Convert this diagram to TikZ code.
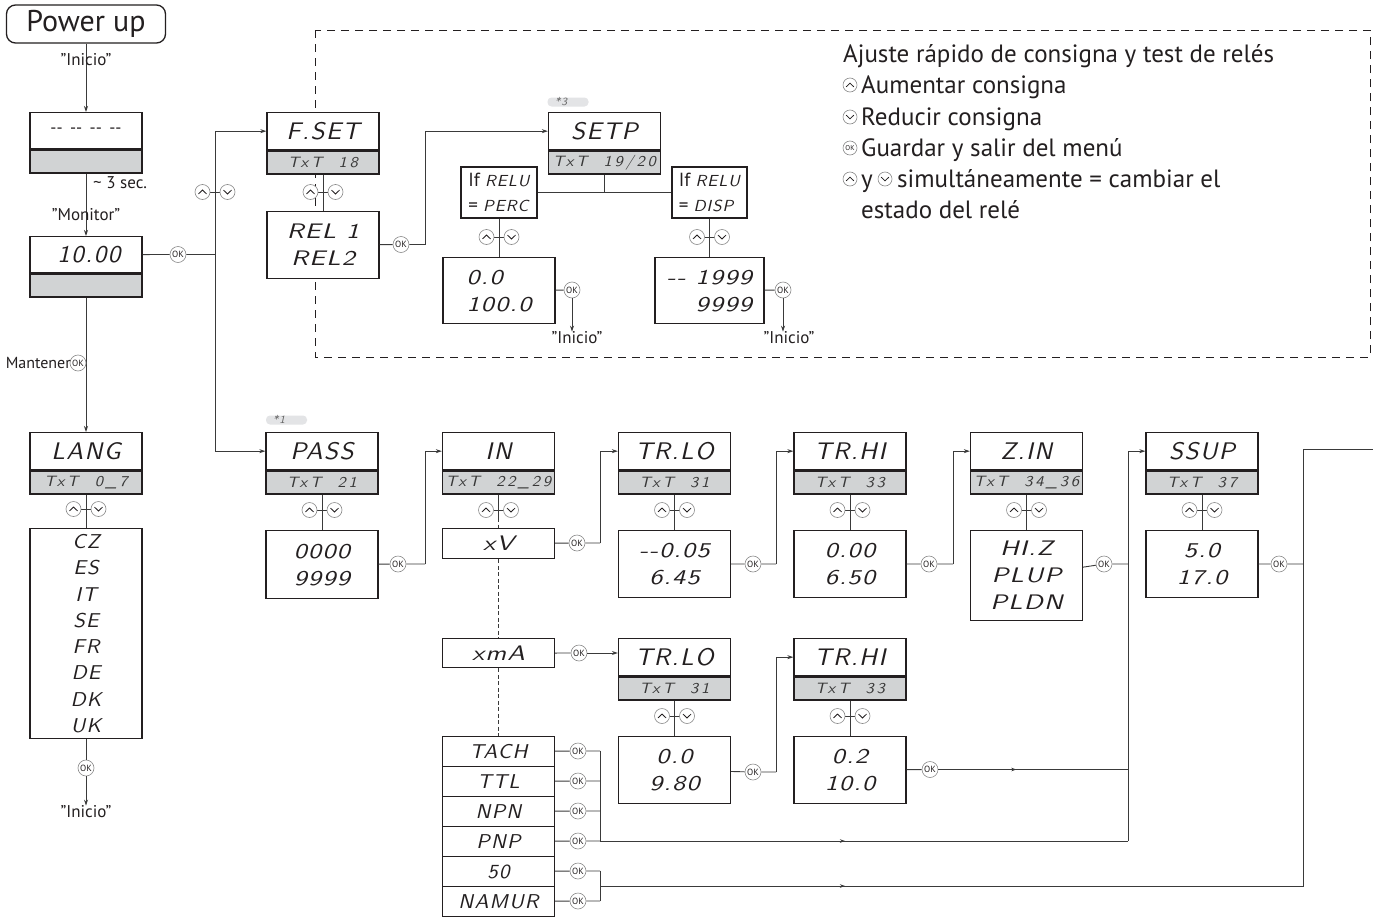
\documentclass[tikz,border=0pt]{standalone}
\usepackage{fontspec}
\setmainfont{PT Sans}
\newfontfamily\segT{lmsans10-oblique.otf}[FakeStretch=1.05,LetterSpace=6]
\newfontfamily\segV{lmsans10-oblique.otf}[FakeStretch=1.25,LetterSpace=6]
\newfontfamily\segB{lmsans10-oblique.otf}[FakeStretch=1.1,LetterSpace=18]
\usetikzlibrary{arrows.meta,decorations.markings,calc}
\definecolor{ink}{HTML}{231F20}
\definecolor{lnc}{HTML}{3A3A3A}
\definecolor{bandc}{HTML}{D1D3D4}
\definecolor{okc}{HTML}{8A8A8A}
\definecolor{pillc}{HTML}{E3E4E6}
\tikzset{
 lbl/.style={font=\fontsize{17}{19}\selectfont, text=ink, inner sep=0pt},
 leg/.style={font=\fontsize{25}{25}\selectfont, text=ink, inner sep=0pt, anchor=base west},
 boxs/.style={draw=ink, line width=1.3pt, fill=white, inner sep=0pt, text=ink},
 seg/.style={font=\fontsize{24}{26}\segT},
 segsm/.style={font=\fontsize{21}{27}\segV},
 seglist/.style={font=\fontsize{20}{26.3}\segT},
 bandtxt/.style={font=\fontsize{15}{16}\segB, text=black!78},
 ln/.style={draw=lnc, line width=0.9pt},
 arr/.style={ln, -{Stealth[length=6pt,width=4pt]}},
 dsh/.style={ln, dash pattern=on 4pt off 2.5pt},
 okn/.style={circle, draw=okc, line width=0.6pt, fill=white, minimum size=16pt, inner sep=0pt, font=\fontsize{9}{9}\selectfont, text=ink},
 udc/.style={circle, draw=okc, line width=0.6pt, fill=white, minimum size=15pt, inner sep=0pt},
 chev/.style={draw=ink, line width=0.8pt},
 midarr/.style={postaction={decorate}, decoration={markings, mark=at position #1 with {\arrow{Stealth[length=5pt,width=3.5pt]}}}},
 pill/.style={fill=pillc, rounded corners=4pt, inner sep=0pt, minimum width=41pt, minimum height=9pt},
 pilltxt/.style={font=\fontsize{11}{11}\segT, text=black!60, inner sep=0pt}
}
\newcommand\mmenu[6][37]{%
 \node[boxs, seg, minimum width=112pt, minimum height=#1pt, anchor=north] (#2) at (#3,#4) {#5};
 \node[boxs, fill=bandc, bandtxt, minimum width=112pt, minimum height=23pt, anchor=north] (#2b) at (#2.south) {#6};
}
\newcommand\valbx[6][center]{%
 \node[boxs, segsm, minimum width=112pt, minimum height=#5pt, anchor=north, align=#1] (#2) at (#3,#4) {#6};
}
\newcommand\icup[4]{%
 \node[udc, minimum size=#4pt] (#1) at (#2,#3) {};
 \draw[chev] ($(#1)+(-0.27*#4,0.13*#4)$) -- ($(#1)+(0,-0.13*#4)$) -- ($(#1)+(0.27*#4,0.13*#4)$);
}
\newcommand\icdn[4]{%
 \node[udc, minimum size=#4pt] (#1) at (#2,#3) {};
 \draw[chev] ($(#1)+(-0.27*#4,-0.13*#4)$) -- ($(#1)+(0,0.13*#4)$) -- ($(#1)+(0.27*#4,-0.13*#4)$);
}
\newcommand\updown[3]{%
 \draw[ln] (#2-5,#3) -- (#2+5,#3);
 \icup{#1u}{#2-12.5}{#3}{15}
 \icdn{#1d}{#2+12.5}{#3}{15}
}
\begin{document}
\begin{tikzpicture}[x=1pt,y=-1pt]
\useasboundingbox (0,0) rectangle (1373,918);
\fill[white] (0,0) rectangle (1373,918);

% dashed frame
\draw[draw=ink, line width=1pt, dash pattern=on 8pt off 6pt] (315,30) rectangle (1370,357);

% ---------- left column ----------
\node[draw=ink, line width=1.3pt, rounded corners=9pt, minimum width=159pt, minimum height=38pt, font=\fontsize{30}{32}\selectfont, text=ink, inner sep=0pt] (pu) at (86,24) {Power up};
\mmenu[36]{bA}{86}{112}{{\rmfamily\fontsize{17}{17}\selectfont -{}- \,-{}- \,-{}- \,-{}-}}{}
\draw[arr] (pu) -- (bA);
\node[lbl] (lini0) at (86,60) {"Inicio"};
\mmenu[36]{bB}{86}{236}{\hspace*{6pt}10.00}{}
\draw[arr] (bAb) -- (bB);
\node[lbl, anchor=west] (lsec) at (93,183) {\textasciitilde{} 3 sec.};
\node[lbl] (lmon) at (86,215) {"Monitor"};

\node[okn] (okB) at (178,254.5) {OK};
\coordinate (trunk) at (215,254.5);
\draw[ln] (bB) -- (okB) -- (trunk);

\mmenu{lang}{86}{432}{LANG}{TxT\ \ 0\_7}
\draw[arr] (bBb) -- (lang);
\node[okn] (okM) at (78,363) {OK};
\node[lbl, anchor=east, font=\fontsize{16}{18}\selectfont] (lman) at (71,363) {Mantener};
\node[boxs, seglist, align=center, minimum width=112pt, minimum height=210pt, anchor=north] (langl) at (86,528) {CZ\\ES\\IT\\SE\\FR\\DE\\DK\\UK};
\draw[ln] (langb) -- (langl);
\updown{lg}{86}{509}
\node[okn] (okL) at (86,768) {OK};
\node[lbl] (lini1) at (86,812) {"Inicio"};
\draw[ln] (langl) -- (okL);
\draw[arr] (okL) -- (lini1);

% ---------- F.SET / SETP ----------
\mmenu{fset}{323}{112}{F.SET}{TxT\ \ 18}
\valbx{rel}{323}{211}{67}{REL 1\\REL2}
\draw[ln] (fsetb) -- (rel);
\updown{fs}{323}{192}
\node[okn] (okR) at (401,244.5) {OK};
\coordinate (cR) at (425,244.5);
\draw[ln] (rel) -- (okR) -- (cR);

\mmenu{setp}{604.5}{112}{SETP}{TxT\ \ 19/20}
\draw[arr] (cR) |- (setp);
\node[pill] (p3) at (568,102) {};
\node[pilltxt] (p3t) at (561,101) {*3};
\coordinate (jS) at (604.5,192.5);
\draw[ln] (setpb) -- (jS);
\node[boxs, align=left, font=\fontsize{19}{25}\selectfont, minimum width=76pt, minimum height=51pt] (perc) at (499,192.5) {If {\fontsize{16}{16}\segT RELU}\\= {\fontsize{16}{16}\segT PERC}};
\node[boxs, align=left, font=\fontsize{19}{25}\selectfont, minimum width=75pt, minimum height=51pt] (disp) at (709.5,192.5) {If {\fontsize{16}{16}\segT RELU}\\= {\fontsize{16}{16}\segT DISP}};
\draw[ln] (perc) -- (disp);
\valbx[left]{pv}{499}{257}{66}{0.0\\100.0}
\draw[ln] (perc) -- (pv);
\updown{pc}{499}{237}
\node[okn] (okP) at (572,290) {OK};
\draw[ln] (pv) -- (okP);
\node[lbl] (lini2) at (577,338) {"Inicio"};
\draw[arr] (okP) -- (okP |- lini2.north);
\node[boxs, segsm, minimum width=109pt, minimum height=66pt, anchor=north, align=right] (dv) at (709.5,257) {-{}- 1999\\9999};
\draw[ln] (disp) -- (dv);
\updown{dp}{709.5}{237}
\node[okn] (okD) at (783,290) {OK};
\draw[ln] (dv) -- (okD);
\node[lbl] (lini3) at (789,338) {"Inicio"};
\draw[arr] (okD) -- (okD |- lini3.north);

% legend
\node[leg] (lg0) at (843,62) {Ajuste rápido de consigna y test de relés};
\icup{li1}{850}{85}{14}
\node[leg] (lg1) at (861,93) {Aumentar consigna};
\icdn{li2}{850}{117}{14}
\node[leg] (lg2) at (861,125) {Reducir consigna};
\node[okn, minimum size=14pt, font=\fontsize{7}{7}\selectfont] (li3) at (850,148) {OK};
\node[leg] (lg3) at (861,156) {Guardar y salir del menú};
\icup{li4}{850}{179}{14}
\node[leg] (lg4a) at (861,187) {y};
\icdn{li5}{885}{179}{14}
\node[leg] (lg4b) at (897,187) {simultáneamente = cambiar el};
\node[leg] (lg5) at (861,218) {estado del relé};

% ---------- bottom row ----------
\mmenu{pass}{322}{432}{PASS}{TxT\ \ 21}
\draw[arr] (trunk) |- (fset.west);
\draw[arr] (trunk) |- (pass.west);
\updown{tr}{215}{192}
\node[pill] (p1) at (286.5,420) {};
\node[pilltxt] (p1t) at (279,419) {*1};
\valbx{pv0}{322}{530}{68}{0000\\9999}
\draw[ln] (passb) -- (pv0);
\updown{ps}{322}{510}
\node[okn] (okPS) at (398,564) {OK};
\coordinate (cPS) at (425,564);
\draw[ln] (pv0) -- (okPS) -- (cPS);

\mmenu{inm}{498.5}{432}{IN}{TxT\ \ 22\_29}
\draw[arr] (cPS) |- (inm);
\valbx{xv}{498.5}{528}{30}{xV}
\coordinate (inSplit) at (498.5,518);
\draw[ln] (inmb) -- (inSplit);
\draw[dsh] (inSplit) -- (xv);
\updown{im}{498.5}{510}
\node[okn] (okXV) at (577,543) {OK};
\coordinate (cXV) at (600,543);
\draw[ln] (xv) -- (okXV) -- (cXV);

\mmenu{trlo}{674.5}{432}{TR.LO}{TxT\ \ 31}
\draw[arr] (cXV) |- (trlo);
\valbx{tlv}{674.5}{530}{67}{-{}-0.05\\6.45}
\draw[ln] (trlob) -- (tlv);
\updown{tl}{674.5}{510}
\node[okn] (okTL) at (753,564) {OK};
\coordinate (cTL) at (776,564);
\draw[ln] (tlv) -- (okTL) -- (cTL);

\mmenu{trhi}{850}{432}{TR.HI}{TxT\ \ 33}
\draw[arr] (cTL) |- (trhi);
\valbx{thv}{850}{530}{67}{0.00\\6.50}
\draw[ln] (trhib) -- (thv);
\updown{th}{850}{510}
\node[okn] (okTH) at (929,564) {OK};
\coordinate (cTH) at (953,564);
\draw[ln] (thv) -- (okTH) -- (cTH);

\mmenu{zin}{1026.5}{432}{Z.IN}{TxT\ \ 34\_36}
\draw[arr] (cTH) |- (zin);
\valbx{zv}{1026.5}{530}{90}{HI.Z\\PLUP\\PLDN}
\draw[ln] (zinb) -- (zv);
\updown{zn}{1026.5}{510}
\node[okn] (okZ) at (1104,564) {OK};
\coordinate (tk1) at (1128,841);
\draw[ln] (zv) -- (okZ) -- (okZ -| tk1);

\mmenu{ssup}{1202}{432}{SSUP}{TxT\ \ 37}
\draw[arr] (tk1) |- (ssup);
\valbx{sv}{1202}{530}{67}{5.0\\17.0}
\draw[ln] (ssupb) -- (sv);
\updown{ss}{1202}{510}
\node[okn] (okS) at (1279,564) {OK};
\coordinate (tk2) at (1303.5,886);
\coordinate (exitR) at (1373,449.5);
\draw[ln] (sv) -- (okS) -- (okS -| tk2);
\draw[ln] (tk2) |- (exitR);

% xmA branch
\valbx{xma}{498.5}{638}{29}{xmA}
\draw[dsh] (xv) -- (xma);
\node[okn] (okXM) at (579,653) {OK};
\draw[ln] (xma) -- (okXM);
\mmenu{trloB}{674.5}{638}{TR.LO}{TxT\ \ 31}
\draw[arr] (okXM) -- (okXM -| trloB.west);
\valbx{tlvB}{674.5}{736}{67}{0.0\\9.80}
\draw[ln] (trloBb) -- (tlvB);
\updown{tlB}{674.5}{716}
\node[okn] (okTLB) at (753,772) {OK};
\coordinate (cTLB) at (776,772);
\draw[ln] (tlvB) -- (okTLB) -- (cTLB);
\mmenu{trhiB}{850}{638}{TR.HI}{TxT\ \ 33}
\draw[arr] (cTLB) |- (trhiB);
\valbx{thvB}{850}{736}{67}{0.2\\10.0}
\draw[ln] (trhiBb) -- (thvB);
\updown{thB}{850}{716}
\node[okn] (okTHB) at (930,769.5) {OK};
\draw[ln] (thvB) -- (okTHB);
\draw[ln, midarr=78pt] (okTHB) -- (okTHB -| tk1);

% list of input types
\foreach \nm/\tx/\yy in {tach/TACH/736, ttl/TTL/766, npn/NPN/796, pnp/PNP/826, so/50/856, namur/NAMUR/886} {
  \node[boxs, font=\fontsize{20}{20}\segT, minimum width=112pt, minimum height=30pt, anchor=north] (\nm) at (498.5,\yy) {\tx};
  \node[okn] (ok\nm) at (578,\yy+15) {OK};
  \coordinate (c\nm) at (600,\yy+15);
  \draw[ln] (\nm) -- (ok\nm) -- (c\nm);
}
\draw[dsh] (xma) -- (tach);
\draw[ln] (ctach) -- (cpnp);
\draw[ln, midarr=245pt] (cpnp) -- (tk1);
\draw[ln] (cso) -- (cnamur);
\coordinate (jSO) at (600,886);
\draw[ln, midarr=245pt] (jSO) -- (tk2);
\end{tikzpicture}
\end{document}
